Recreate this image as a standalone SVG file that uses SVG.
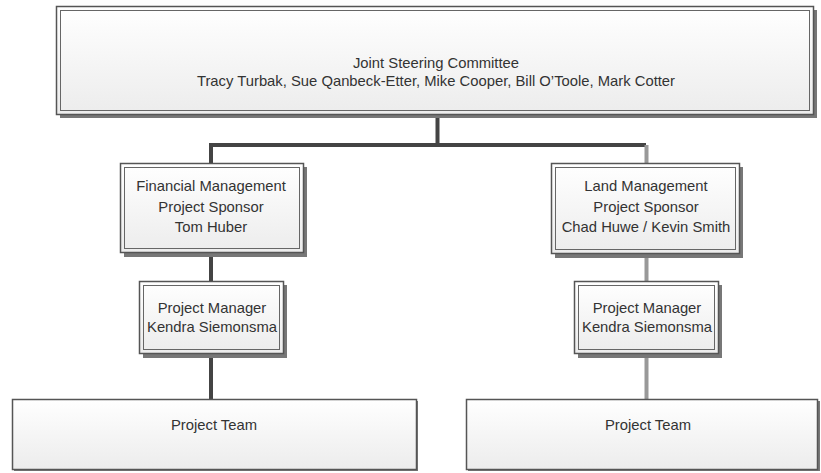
<svg xmlns="http://www.w3.org/2000/svg" width="821" height="473" viewBox="0 0 821 473">
<style>
.t{font-family:"Liberation Sans",Arial,sans-serif;fill:#333;text-anchor:middle;font-size:14.8px}
.o{fill:url(#g);stroke:#555;stroke-width:1.5}
.i{fill:none;stroke:#666;stroke-width:1}
.sh{fill:#777}
.dk{stroke:#444;stroke-width:4;fill:none}
.lt{stroke:#999;stroke-width:4;fill:none}
</style>
<defs>
<linearGradient id="g" x1="0" y1="0" x2="0" y2="1">
<stop offset="0" stop-color="#ffffff"/>
<stop offset="1" stop-color="#ececec"/>
</linearGradient>
</defs>
<g id="connectors">
<path class="dk" d="M437.5 118V145H211V163"/>
<path class="dk" d="M437.5 145H646"/>
<path class="lt" d="M646.5 145V163"/>
<path class="dk" d="M211 256V281"/>
<path class="dk" d="M211 358V399"/>
<path class="lt" d="M646.5 258V281"/>
<path class="lt" d="M646.5 358V399"/>
</g>
<g id="steering">
<rect class="sh" x="60" y="10" width="757" height="108"/>
<rect class="o" x="56.5" y="6.5" width="757" height="108"/>
<rect class="i" x="60.5" y="10.5" width="749" height="100"/>
<text class="t" x="436" y="68">Joint Steering Committee</text>
<text class="t" x="436" y="86">Tracy Turbak, Sue Qanbeck-Etter, Mike Cooper, Bill O’Toole, Mark Cotter</text>
</g>
<g id="financial">
<rect class="sh" x="124" y="167" width="183" height="90"/>
<rect class="o" x="120.5" y="163.5" width="183" height="89"/>
<rect class="i" x="124.5" y="167.5" width="175" height="81"/>
<text class="t" x="211" y="191">Financial Management</text>
<text class="t" x="211" y="212">Project Sponsor</text>
<text class="t" x="211" y="232">Tom Huber</text>
</g>
<g id="land">
<rect class="sh" x="555" y="167" width="188" height="91"/>
<rect class="o" x="551.5" y="163.5" width="188" height="90"/>
<rect class="i" x="555.5" y="167.5" width="180" height="82"/>
<text class="t" x="646" y="191">Land Management</text>
<text class="t" x="646" y="212">Project Sponsor</text>
<text class="t" x="646" y="232">Chad Huwe / Kevin Smith</text>
</g>
<g id="pm-left">
<rect class="sh" x="143" y="285" width="144" height="73"/>
<rect class="o" x="139.5" y="281.5" width="144" height="72"/>
<rect class="i" x="143.5" y="285.5" width="136" height="64"/>
<text class="t" x="212" y="313">Project Manager</text>
<text class="t" x="212" y="332">Kendra Siemonsma</text>
</g>
<g id="pm-right">
<rect class="sh" x="578" y="285" width="144" height="73"/>
<rect class="o" x="574.5" y="281.5" width="144" height="72"/>
<rect class="i" x="578.5" y="285.5" width="136" height="64"/>
<text class="t" x="647" y="313">Project Manager</text>
<text class="t" x="647" y="332">Kendra Siemonsma</text>
</g>
<g id="team-left">
<rect class="sh" x="14" y="401" width="404" height="70"/>
<rect class="o" x="12.5" y="399.5" width="404" height="70"/>
<text class="t" x="214" y="430">Project Team</text>
</g>
<g id="team-right">
<rect class="sh" x="468" y="401" width="352" height="70"/>
<rect class="o" x="466.5" y="399.5" width="351" height="70"/>
<text class="t" x="648" y="430">Project Team</text>
</g>
</svg>
